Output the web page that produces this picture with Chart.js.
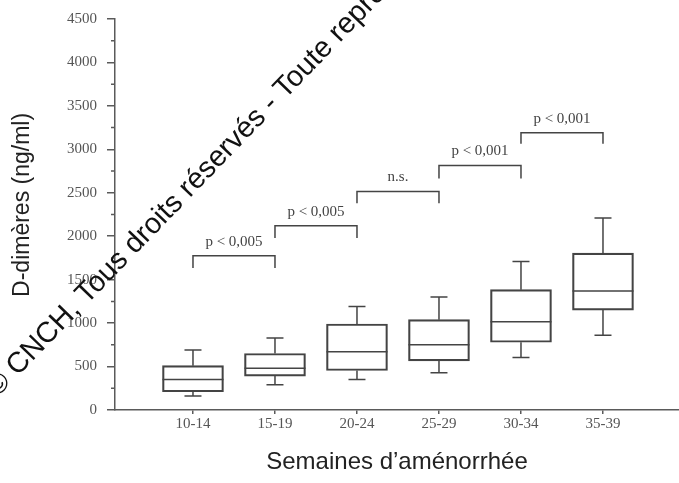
<!DOCTYPE html>
<html>
<head>
  <meta charset="utf-8" />
  <script src="https://cdn.jsdelivr.net/npm/chart.js@4.4.1/dist/chart.umd.min.js"></script>
  <style>
    body{margin:0;background:#fff;overflow:hidden;}
    #wrap{width:679px;height:483px;}
  </style>
</head>
<body>
<div id="wrap"><canvas id="box" width="679" height="483"></canvas></div>

<script>
// weeks of amenorrhea groups
const groups = ['10-14', '15-19', '20-24', '25-29', '30-34', '35-39'];
// box plot values (ng/ml)
const whiskerLow  = [160, 290, 350, 430, 605, 860];
const q1          = [210, 390, 455, 565, 780, 1150];
const median      = [350, 480, 670, 750, 1015, 1370];
const q3          = [510, 650, 990, 1040, 1385, 1805];
const whiskerHigh = [690, 830, 1190, 1300, 1710, 2210];

// significance brackets between neighbouring groups
const bracketFrom = [0, 1, 2, 3, 4];
const bracketTop  = [1775, 2120, 2515, 2815, 3190];
const bracketLeg  = [1635, 1980, 2380, 2665, 3065];
const bracketText = ['p < 0,005', 'p < 0,005', 'n.s.', 'p < 0,001', 'p < 0,001'];

const yTicks = [0, 500, 1000, 1500, 2000, 2500, 3000, 3500, 4000, 4500];
const yMinorTicks = [250, 750, 1250, 1750, 2250, 2750, 3250, 3750, 4250];

const LINE = '#444';
const AXIS = '#5a5a5a';
const TICKTXT = '#555';
const SERIF = '"Liberation Serif", "DejaVu Serif", serif';
const SANS = '"Liberation Sans", Arial, sans-serif';

const boxExtras = {
  id: 'boxExtras',
  beforeDraw(chart){
    const c = chart.ctx;
    c.save(); c.fillStyle = '#fff'; c.fillRect(0, 0, chart.width, chart.height); c.restore();
  },
  afterDatasetsDraw(chart){
    const {ctx, scales:{x, y}} = chart;
    const half = 30.5, cap = 8.5;
    ctx.save();
    ctx.strokeStyle = LINE;
    ctx.lineWidth = 1.5;
    groups.forEach((g, i) => {
      const px = x.getPixelForValue(i);
      ctx.beginPath();
      // median
      ctx.moveTo(px - half, y.getPixelForValue(median[i]));
      ctx.lineTo(px + half, y.getPixelForValue(median[i]));
      // whiskers
      ctx.moveTo(px, y.getPixelForValue(q3[i]));
      ctx.lineTo(px, y.getPixelForValue(whiskerHigh[i]));
      ctx.moveTo(px - cap, y.getPixelForValue(whiskerHigh[i]));
      ctx.lineTo(px + cap, y.getPixelForValue(whiskerHigh[i]));
      ctx.moveTo(px, y.getPixelForValue(q1[i]));
      ctx.lineTo(px, y.getPixelForValue(whiskerLow[i]));
      ctx.moveTo(px - cap, y.getPixelForValue(whiskerLow[i]));
      ctx.lineTo(px + cap, y.getPixelForValue(whiskerLow[i]));
      ctx.stroke();
    });

    // brackets
    ctx.font = '15px ' + SERIF;
    ctx.fillStyle = '#444';
    ctx.textAlign = 'center';
    ctx.textBaseline = 'alphabetic';
    bracketFrom.forEach((f, k) => {
      const a = x.getPixelForValue(f), b = x.getPixelForValue(f + 1);
      const top = y.getPixelForValue(bracketTop[k]), leg = y.getPixelForValue(bracketLeg[k]);
      ctx.beginPath();
      ctx.moveTo(a, leg); ctx.lineTo(a, top); ctx.lineTo(b, top); ctx.lineTo(b, leg);
      ctx.stroke();
      ctx.fillText(bracketText[k], (a + b) / 2, top - 10);
    });

    // minor ticks on the y axis
    ctx.strokeStyle = AXIS;
    ctx.beginPath();
    yMinorTicks.forEach(v => {
      const py = y.getPixelForValue(v);
      ctx.moveTo(x.left - 4, py); ctx.lineTo(x.left, py);
    });
    ctx.stroke();
    ctx.restore();
  },
  afterDraw(chart){
    // copyright watermark
    const c = chart.ctx;
    c.save();
    c.translate(-3, 398);
    c.rotate(-46 * Math.PI / 180);
    c.font = '29px ' + SANS;
    c.fillStyle = '#111';
    c.textAlign = 'left';
    c.textBaseline = 'alphabetic';
    c.fillText('\u00a9 CNCH, Tous droits r\u00e9serv\u00e9s - Toute reproduction', 0, 0);
    c.restore();
  }
};

new Chart(document.getElementById('box'), {
  type: 'bar',
  data: {
    datasets: [{
      data: groups.map((g, i) => ({ x: i, y: [q1[i], q3[i]] })),
      backgroundColor: 'rgba(255,255,255,0)',
      borderColor: LINE,
      borderWidth: 1.5,
      borderSkipped: false,
      barThickness: 61
    }]
  },
  options: {
    responsive: false,
    animation: false,
    layout: { padding: { top: 15, right: 0, bottom: 0, left: 0 } },
    plugins: { legend: { display: false }, tooltip: { enabled: false } },
    scales: {
      x: {
        type: 'linear',
        offset: false,
        min: -0.951, max: 5.927,
        afterBuildTicks: s => { s.ticks = groups.map((g, i) => ({ value: i })); },
        afterFit: s => { s.height = 73; },
        ticks: { callback: v => groups[v], font: { size: 15, family: SERIF }, color: TICKTXT, padding: 1, maxRotation: 0 },
        grid: { offset: false, drawOnChartArea: false, tickLength: 4, color: AXIS, lineWidth: 1.5 },
        border: { color: AXIS, width: 1.5 },
        title: { display: true, text: 'Semaines d\u2019am\u00e9norrh\u00e9e', font: { size: 24, family: SANS }, color: '#222', padding: { top: 0, bottom: 6 } }
      },
      y: {
        min: 0, max: 4500,
        afterBuildTicks: s => { s.ticks = yTicks.map(v => ({ value: v })); },
        afterFit: s => { s.width = 115; },
        ticks: { callback: v => String(v), font: { size: 15, family: SERIF }, color: TICKTXT, padding: 10 },
        grid: { drawOnChartArea: false, tickLength: 8, color: AXIS, lineWidth: 1.5 },
        border: { color: AXIS, width: 1.5 },
        title: { display: true, text: '   D-dim\u00e8res (ng/ml)', font: { size: 23, family: SANS }, color: '#222', padding: { top: 9, bottom: 0 } }
      }
    }
  },
  plugins: [boxExtras]
});
</script>
</body>
</html>
